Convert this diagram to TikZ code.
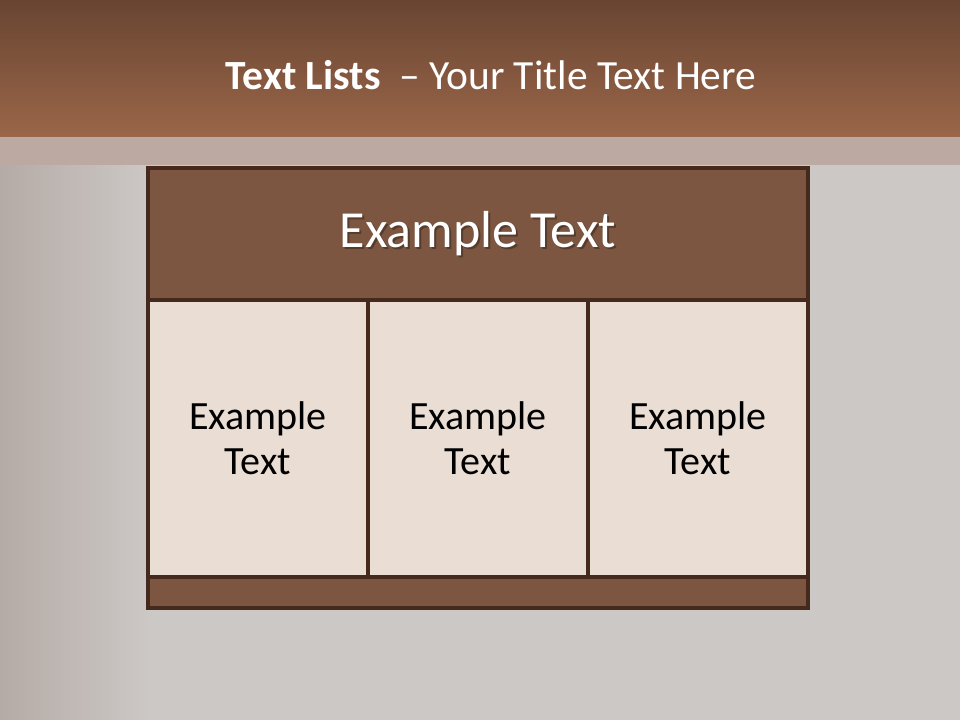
\documentclass[tikz,border=0pt]{standalone}
\usepackage{fontspec}
\setmainfont{Carlito}
\usepackage{tikz}

\tikzset{
  cellbox/.style={draw=edge,line width=2.2pt,fill=cell,inner sep=0pt},
  barbox/.style={draw=edge,line width=2.2pt,fill=bar,inner sep=0pt},
  celltext/.style={align=center,font=\fontsize{28.5}{32}\selectfont,text=black}
}

\begin{document}
\begin{tikzpicture}[x=0.025cm,y=-0.025cm]
\definecolor{bgray}{HTML}{CCC8C5}
\definecolor{bleft}{HTML}{B5ABA6}
\definecolor{ttop}{HTML}{684532}
\definecolor{tbot}{HTML}{9B6649}
\definecolor{strip}{HTML}{BBA9A2}
\definecolor{bar}{HTML}{7C5640}
\definecolor{cell}{HTML}{E9DDD4}
\definecolor{edge}{HTML}{45291C}
% background
\fill[bgray] (0,0) rectangle (960,720);
\shade[left color=bleft,right color=bgray] (0,137) rectangle (150,720);
\shade[top color=ttop,bottom color=tbot] (0,0) rectangle (960,137);
\fill[strip] (0,137) rectangle (960,165);
\useasboundingbox (0,0) rectangle (960,720);
% title
\node[text=white,font=\fontsize{29.5}{34}\selectfont] (title) at (491,75) {\textbf{Text Lists}\ \ – Your Title Text Here};
% table
\node[barbox,minimum width=660*0.025cm,minimum height=132*0.025cm] (head) at (478,234) {};
\node[cellbox,minimum width=220*0.025cm,minimum height=277*0.025cm] (c1) at (258,438.5) {};
\node[cellbox,minimum width=220*0.025cm,minimum height=277*0.025cm] (c2) at (478,438.5) {};
\node[cellbox,minimum width=220*0.025cm,minimum height=277*0.025cm] (c3) at (698,438.5) {};
\node[barbox,minimum width=660*0.025cm,minimum height=31*0.025cm] (foot) at (478,592.5) {};
% labels
\node[text=black,opacity=0.3,font=\fontsize{37}{40}\selectfont] (headshadow) at (480,236) {Example Text};
\node[text=white,font=\fontsize{37}{40}\selectfont] (headtext) at (head) {Example Text};
\node[celltext] (t1) at (c1) {Example\\Text};
\node[celltext] (t2) at (c2) {Example\\Text};
\node[celltext] (t3) at (c3) {Example\\Text};
\end{tikzpicture}
\end{document}
